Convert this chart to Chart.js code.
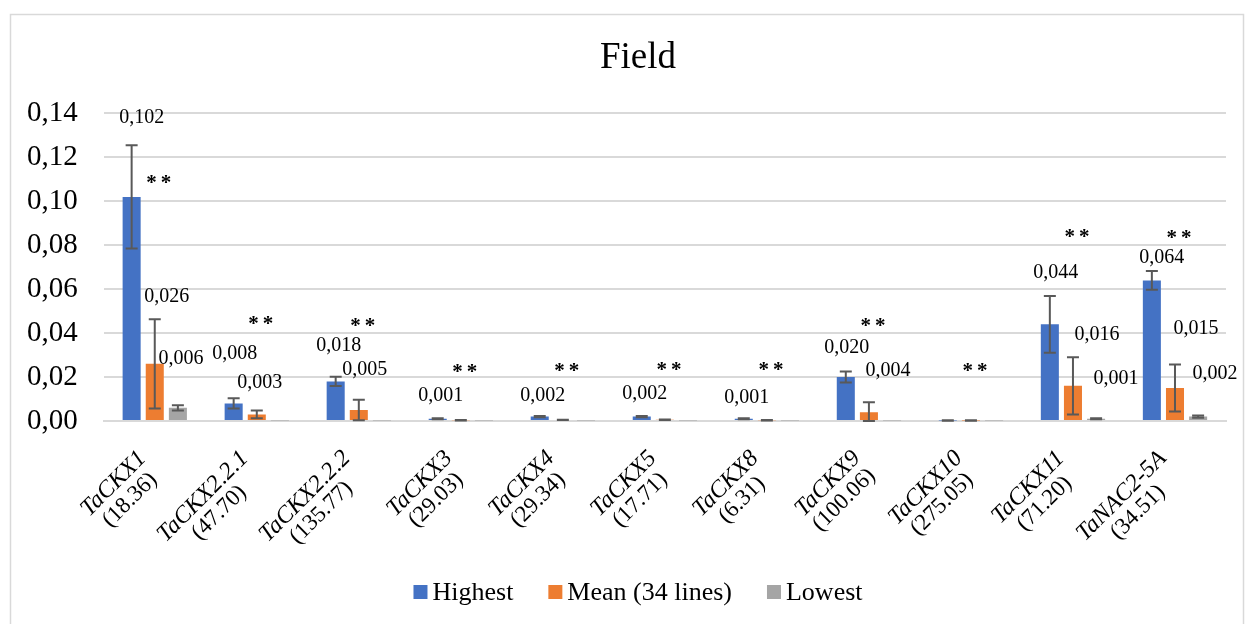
<!DOCTYPE html>
<html>
<head>
<meta charset="utf-8">
<script src="https://cdn.jsdelivr.net/npm/chart.js@4.4.0/dist/chart.umd.min.js"></script>
<style>
  html, body { margin: 0; padding: 0; background: #fff; }
  #wrap { width: 1254px; height: 624px; }
</style>
</head>
<body>
<div id="wrap"><canvas id="myChart" width="1254" height="624"></canvas></div>
<script>
// gene names and (second line) values shown under each group
var genes = ['TaCKX1', 'TaCKX2.2.1', 'TaCKX2.2.2', 'TaCKX3', 'TaCKX4', 'TaCKX5', 'TaCKX8', 'TaCKX9', 'TaCKX10', 'TaCKX11', 'TaNAC2-5A'];
var geneNotes = ['(18.36)', '(47.70)', '(135.77)', '(29.03)', '(29.34)', '(17.71)', '(6.31)', '(100.06)', '(275.05)', '(71.20)', '(34.51)'];

var highest    = [0.102, 0.008, 0.018, 0.001, 0.002, 0.002, 0.001, 0.020, 0.0002, 0.044, 0.064];
var highestErr = [0.0235, 0.0023, 0.0021, 0.0002, 0.0003, 0.0003, 0.0002, 0.0025, 0.0001, 0.0129, 0.0043];
var mean       = [0.026, 0.003, 0.005, 0.0003, 0.0005, 0.0006, 0.0003, 0.004, 0.0002, 0.016, 0.015];
var meanErr    = [0.0203, 0.0018, 0.0047, 0.0001, 0.0001, 0.0001, 0.0001, 0.0045, 0.0001, 0.0130, 0.0107];
var lowest     = [0.006, 0.0002, 0.0002, 0.0002, 0.0002, 0.0002, 0.0002, 0.0002, 0.0002, 0.001, 0.002];
var lowestErr  = [0.0012, 0, 0, 0, 0, 0, 0, 0, 0, 0.0002, 0.0005];

var seriesNames = ['Highest', 'Mean (34 lines)', 'Lowest'];
var seriesColors = ['#4472C4', '#ED7D31', '#A5A5A5'];
var yTicks = [0, 0.02, 0.04, 0.06, 0.08, 0.10, 0.12, 0.14];

// which bars carry a value label: [dataset, index, dx in px, label height in axis units]
var labelSpots = [
    [0, 0, 10, 0.138], [0, 1, 1, 0.0307], [0, 2, 3, 0.0343], [0, 3, 3, 0.0113], [0, 4, 3, 0.0117],
    [0, 5, 3, 0.0122], [0, 6, 3, 0.0108], [0, 7, 1, 0.0334], [0, 9, 6, 0.0677], [0, 10, 10, 0.0745],
    [1, 0, 12, 0.0564], [1, 1, 3, 0.0172], [1, 2, 6, 0.0235], [1, 7, 19, 0.023], [1, 9, 24, 0.0393], [1, 10, 21, 0.042],
    [2, 0, 3, 0.0284], [2, 9, 20, 0.0194], [2, 10, 17, 0.0217]
];
// height of the "**" marks over each group, axis units
var starY = [0.110, 0.0456, 0.0447, 0.024, 0.0244, 0.0248, 0.0248, 0.045, 0.0244, 0.0853, 0.0849];

var errors = [highestErr, meanErr, lowestErr];
var serif = "'Liberation Serif', 'Times New Roman', serif";
var midX = 638;

function fmt(v) {
    return v.toFixed(3).replace('.', ',');
}

var extras = {
    id: 'extras',
    beforeDraw: function (chart) {
        var c = chart.ctx;
        c.save();
        c.fillStyle = '#fff';
        c.fillRect(0, 0, chart.width, chart.height);
        c.strokeStyle = '#d9d9d9';
        c.lineWidth = 1.5;
        c.strokeRect(10.5, 14.5, chart.width - 21, chart.height + 10);
        c.restore();
    },
    afterDatasetsDraw: function (chart) {
        var c = chart.ctx;
        var y = chart.scales.y;
        var x = chart.scales.x;
        c.save();
        // title
        c.fillStyle = '#000';
        c.font = '37px ' + serif;
        c.textAlign = 'center';
        c.textBaseline = 'middle';
        c.fillText('Field', midX, 58);
        // error bars
        c.strokeStyle = '#595959';
        c.lineWidth = 2;
        chart.data.datasets.forEach(function (ds, di) {
            var meta = chart.getDatasetMeta(di);
            meta.data.forEach(function (bar, i) {
                var e = errors[di][i];
                if (!e) return;
                var v = ds.data[i];
                var top = y.getPixelForValue(v + e);
                var bot = y.getPixelForValue(Math.max(v - e, 0));
                c.beginPath();
                c.moveTo(bar.x, top); c.lineTo(bar.x, bot);
                c.moveTo(bar.x - 6, top); c.lineTo(bar.x + 6, top);
                c.moveTo(bar.x - 6, bot); c.lineTo(bar.x + 6, bot);
                c.stroke();
            });
        });
        // value labels
        c.font = '20px ' + serif;
        labelSpots.forEach(function (s) {
            var bar = chart.getDatasetMeta(s[0]).data[s[1]];
            var v = chart.data.datasets[s[0]].data[s[1]];
            c.fillText(fmt(v), bar.x + s[2], y.getPixelForValue(s[3]));
        });
        // significance marks
        c.font = 'bold 21px ' + serif;
        c.letterSpacing = '4px';
        starY.forEach(function (sv, i) {
            c.fillText('**', x.getPixelForValue(i) + 6, y.getPixelForValue(sv) + 4);
        });
        c.letterSpacing = '0px';
        // rotated category labels, gene name italic and note upright
        var lh = 23;
        genes.forEach(function (g, i) {
            var px = x.getPixelForValue(i) - 4;
            var py = chart.chartArea.bottom + 42;
            c.save();
            c.translate(px, py);
            c.rotate(-Math.PI / 4);
            c.font = 'italic 24px ' + serif;
            var w1 = c.measureText(g).width;
            c.font = '23px ' + serif;
            var w2 = c.measureText(geneNotes[i]).width;
            var w = Math.max(w1, w2);
            c.font = 'italic 24px ' + serif;
            c.fillText(g, -w / 2, -lh / 2);
            c.font = '23px ' + serif;
            c.fillText(geneNotes[i], -w / 2, lh / 2);
            c.restore();
        });
        // legend
        c.font = '26px ' + serif;
        c.textAlign = 'left';
        var gap = 5, box = 14, space = 35;
        var widths = seriesNames.map(function (n) { return box + gap + c.measureText(n).width; });
        var total = widths.reduce(function (a, b) { return a + b; }, 0) + space * (seriesNames.length - 1);
        var lx = midX - total / 2;
        var ly = 592;
        seriesNames.forEach(function (n, i) {
            c.fillStyle = seriesColors[i];
            c.fillRect(lx, ly - box / 2, box, box);
            c.fillStyle = '#000';
            c.fillText(n, lx + box + gap, ly + 1);
            lx += widths[i] + space;
        });
        c.restore();
    }
};

var ctx = document.getElementById('myChart').getContext('2d');

var myChart = new Chart(ctx, {
    type: 'bar',
    data: {
        labels: genes,
        datasets: [{
            label: seriesNames[0],
            data: highest,
            backgroundColor: seriesColors[0]
        },
        {
            label: seriesNames[1],
            data: mean,
            backgroundColor: seriesColors[1]
        },
        {
            label: seriesNames[2],
            data: lowest,
            backgroundColor: seriesColors[2]
        }]
    },
    options: {
        responsive: false,
        animation: false,
        categoryPercentage: 0.68,
        barPercentage: 0.78,
        layout: { padding: { left: 1, right: 28, top: 38, bottom: 65 } },
        plugins: {
            title: {
                display: true,
                text: 'Field',
                color: 'rgba(0,0,0,0)',
                font: { family: serif, size: 37, weight: 'normal' },
                padding: { top: 0, bottom: 31 }
            },
            legend: { display: false },
            tooltip: { enabled: false }
        },
        scales: {
            x: {
                grid: { display: false },
                border: { color: '#d9d9d9', width: 2 },
                ticks: { display: false },
                afterFit: function (scale) { scale.height = 138; }
            },
            y: {
                min: 0,
                max: 0.14,
                afterBuildTicks: function (scale) {
                    scale.ticks = yTicks.map(function (v) { return { value: v }; });
                },
                grid: { color: '#d9d9d9', lineWidth: 2, drawTicks: false },
                border: { display: false },
                ticks: {
                    color: '#000',
                    padding: 26,
                    font: { family: serif, size: 29 },
                    callback: function (v) { return v.toFixed(2).replace('.', ','); }
                }
            }
        }
    },
    plugins: [extras]
});
</script>
</body>
</html>
